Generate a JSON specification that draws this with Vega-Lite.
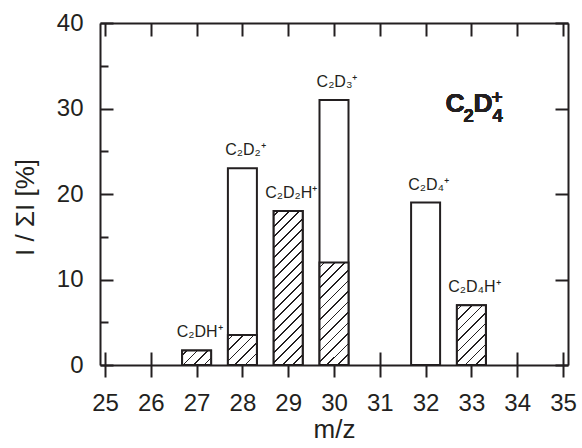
{
  "$schema": "https://vega.github.io/schema/vega-lite/v6.json",
  "width": 468,
  "height": 342,
  "autosize": {"type": "none"},
  "padding": {"left": 100, "top": 23, "right": 14, "bottom": 83},
  "background": "#ffffff",
  "data": {"values": [
    {"mz": 27, "ion": "C₂DH⁺", "total": 1.7, "hatched": 1.7},
    {"mz": 28, "ion": "C₂D₂⁺", "total": 23, "hatched": 3.5},
    {"mz": 29, "ion": "C₂D₂H⁺", "total": 18, "hatched": 18},
    {"mz": 30, "ion": "C₂D₃⁺", "total": 31, "hatched": 12},
    {"mz": 32, "ion": "C₂D₄⁺", "total": 19, "hatched": 0},
    {"mz": 33, "ion": "C₂D₄H⁺", "total": 7, "hatched": 7}
  ]},
  "resolve": {"axis": {"x": "independent", "y": "independent"}},
  "layer": [
    {
      "mark": {"type": "bar", "width": 29, "fill": "#ffffff", "stroke": "#231f20", "strokeWidth": 2},
      "encoding": {
        "x": {"field": "mz", "type": "quantitative", "scale": {"domain": [25, 35], "nice": false, "zero": false},
              "axis": {"orient": "bottom", "values": [25,26,27,28,29,30,31,32,33,34,35], "tickSize": 12, "labelPadding": 14, "labelFlush": false, "labelOverlap": false, "title": "m/z", "titlePadding": 1}},
        "y": {"field": "total", "type": "quantitative", "scale": {"domain": [0, 40], "nice": false},
              "axis": {"orient": "left", "values": [0,10,20,30,40], "ticks": false, "labelPadding": 17, "labelFlush": false, "labelOverlap": false, "title": "I / ΣI [%]", "titlePadding": 18, "titleY": 184}}
      }
    },
    {
      "transform": [{"filter": "datum.hatched > 0"}],
      "mark": {"type": "bar", "width": 29, "stroke": "#231f20", "strokeWidth": 2},
      "encoding": {
        "x": {"field": "mz", "type": "quantitative", "scale": {"domain": [25, 35], "nice": false, "zero": false},
              "axis": {"orient": "top", "values": [25,26,27,28,29,30,31,32,33,34,35], "tickSize": -13, "labels": false, "title": null}},
        "y": {"field": "hatched", "type": "quantitative", "scale": {"domain": [0, 40], "nice": false},
              "axis": {"orient": "right", "values": [0,10,20,30,40], "tickSize": -13, "labels": false, "title": null}},
        "fill": {
          "condition": [
            {"test": "datum.mz === 27", "value": {"gradient": "linear", "x1": 0, "y1": 0, "x2": 1.1998, "y2": 0.6016, "stops": [
              {"offset": 0, "color": "#ffffff"},
              {"offset": 0.0942, "color": "#ffffff"}, {"offset": 0.0942, "color": "#231f20"}, {"offset": 0.1355, "color": "#231f20"}, {"offset": 0.1355, "color": "#ffffff"},
              {"offset": 0.3353, "color": "#ffffff"}, {"offset": 0.3353, "color": "#231f20"}, {"offset": 0.3767, "color": "#231f20"}, {"offset": 0.3767, "color": "#ffffff"},
              {"offset": 0.5765, "color": "#ffffff"}, {"offset": 0.5765, "color": "#231f20"}, {"offset": 0.6178, "color": "#231f20"}, {"offset": 0.6178, "color": "#ffffff"},
              {"offset": 0.8176, "color": "#ffffff"}, {"offset": 0.8176, "color": "#231f20"}, {"offset": 0.8590, "color": "#231f20"}, {"offset": 0.8590, "color": "#ffffff"},
              {"offset": 1, "color": "#ffffff"}
            ]}},
            {"test": "datum.mz === 28", "value": {"gradient": "linear", "x1": 0, "y1": 0, "x2": 0.984, "y2": 1.0155, "stops": [
              {"offset": 0, "color": "#ffffff"},
              {"offset": 0.0696, "color": "#ffffff"}, {"offset": 0.0696, "color": "#231f20"}, {"offset": 0.1001, "color": "#231f20"}, {"offset": 0.1001, "color": "#ffffff"},
              {"offset": 0.2478, "color": "#ffffff"}, {"offset": 0.2478, "color": "#231f20"}, {"offset": 0.2783, "color": "#231f20"}, {"offset": 0.2783, "color": "#ffffff"},
              {"offset": 0.4259, "color": "#ffffff"}, {"offset": 0.4259, "color": "#231f20"}, {"offset": 0.4565, "color": "#231f20"}, {"offset": 0.4565, "color": "#ffffff"},
              {"offset": 0.6041, "color": "#ffffff"}, {"offset": 0.6041, "color": "#231f20"}, {"offset": 0.6347, "color": "#231f20"}, {"offset": 0.6347, "color": "#ffffff"},
              {"offset": 0.7823, "color": "#ffffff"}, {"offset": 0.7823, "color": "#231f20"}, {"offset": 0.8128, "color": "#231f20"}, {"offset": 0.8128, "color": "#ffffff"},
              {"offset": 0.9605, "color": "#ffffff"}, {"offset": 0.9605, "color": "#231f20"}, {"offset": 0.9910, "color": "#231f20"}, {"offset": 0.9910, "color": "#ffffff"},
              {"offset": 1, "color": "#ffffff"}
            ]}},
            {"test": "datum.mz === 29", "value": {"gradient": "linear", "x1": 0, "y1": 0, "x2": 0.2163, "y2": 1.1477, "stops": [
              {"offset": 0, "color": "#ffffff"},
              {"offset": 0.0224, "color": "#ffffff"}, {"offset": 0.0224, "color": "#231f20"}, {"offset": 0.0323, "color": "#231f20"}, {"offset": 0.0323, "color": "#ffffff"},
              {"offset": 0.0798, "color": "#ffffff"}, {"offset": 0.0798, "color": "#231f20"}, {"offset": 0.0897, "color": "#231f20"}, {"offset": 0.0897, "color": "#ffffff"},
              {"offset": 0.1372, "color": "#ffffff"}, {"offset": 0.1372, "color": "#231f20"}, {"offset": 0.1471, "color": "#231f20"}, {"offset": 0.1471, "color": "#ffffff"},
              {"offset": 0.1946, "color": "#ffffff"}, {"offset": 0.1946, "color": "#231f20"}, {"offset": 0.2045, "color": "#231f20"}, {"offset": 0.2045, "color": "#ffffff"},
              {"offset": 0.2520, "color": "#ffffff"}, {"offset": 0.2520, "color": "#231f20"}, {"offset": 0.2619, "color": "#231f20"}, {"offset": 0.2619, "color": "#ffffff"},
              {"offset": 0.3095, "color": "#ffffff"}, {"offset": 0.3095, "color": "#231f20"}, {"offset": 0.3193, "color": "#231f20"}, {"offset": 0.3193, "color": "#ffffff"},
              {"offset": 0.3669, "color": "#ffffff"}, {"offset": 0.3669, "color": "#231f20"}, {"offset": 0.3767, "color": "#231f20"}, {"offset": 0.3767, "color": "#ffffff"},
              {"offset": 0.4243, "color": "#ffffff"}, {"offset": 0.4243, "color": "#231f20"}, {"offset": 0.4341, "color": "#231f20"}, {"offset": 0.4341, "color": "#ffffff"},
              {"offset": 0.4817, "color": "#ffffff"}, {"offset": 0.4817, "color": "#231f20"}, {"offset": 0.4915, "color": "#231f20"}, {"offset": 0.4915, "color": "#ffffff"},
              {"offset": 0.5391, "color": "#ffffff"}, {"offset": 0.5391, "color": "#231f20"}, {"offset": 0.5489, "color": "#231f20"}, {"offset": 0.5489, "color": "#ffffff"},
              {"offset": 0.5965, "color": "#ffffff"}, {"offset": 0.5965, "color": "#231f20"}, {"offset": 0.6063, "color": "#231f20"}, {"offset": 0.6063, "color": "#ffffff"},
              {"offset": 0.6539, "color": "#ffffff"}, {"offset": 0.6539, "color": "#231f20"}, {"offset": 0.6638, "color": "#231f20"}, {"offset": 0.6638, "color": "#ffffff"},
              {"offset": 0.7113, "color": "#ffffff"}, {"offset": 0.7113, "color": "#231f20"}, {"offset": 0.7212, "color": "#231f20"}, {"offset": 0.7212, "color": "#ffffff"},
              {"offset": 0.7687, "color": "#ffffff"}, {"offset": 0.7687, "color": "#231f20"}, {"offset": 0.7786, "color": "#231f20"}, {"offset": 0.7786, "color": "#ffffff"},
              {"offset": 0.8261, "color": "#ffffff"}, {"offset": 0.8261, "color": "#231f20"}, {"offset": 0.8360, "color": "#231f20"}, {"offset": 0.8360, "color": "#ffffff"},
              {"offset": 0.8835, "color": "#ffffff"}, {"offset": 0.8835, "color": "#231f20"}, {"offset": 0.8934, "color": "#231f20"}, {"offset": 0.8934, "color": "#ffffff"},
              {"offset": 0.9410, "color": "#ffffff"}, {"offset": 0.9410, "color": "#231f20"}, {"offset": 0.9508, "color": "#231f20"}, {"offset": 0.9508, "color": "#ffffff"},
              {"offset": 1, "color": "#ffffff"}
            ]}},
            {"test": "datum.mz === 30", "value": {"gradient": "linear", "x1": 0, "y1": 0, "x2": 0.3357, "y2": 1.1878, "stops": [
              {"offset": 0, "color": "#ffffff"},
              {"offset": 0.0312, "color": "#ffffff"}, {"offset": 0.0312, "color": "#231f20"}, {"offset": 0.0448, "color": "#231f20"}, {"offset": 0.0448, "color": "#ffffff"},
              {"offset": 0.1109, "color": "#ffffff"}, {"offset": 0.1109, "color": "#231f20"}, {"offset": 0.1246, "color": "#231f20"}, {"offset": 0.1246, "color": "#ffffff"},
              {"offset": 0.1907, "color": "#ffffff"}, {"offset": 0.1907, "color": "#231f20"}, {"offset": 0.2044, "color": "#231f20"}, {"offset": 0.2044, "color": "#ffffff"},
              {"offset": 0.2705, "color": "#ffffff"}, {"offset": 0.2705, "color": "#231f20"}, {"offset": 0.2842, "color": "#231f20"}, {"offset": 0.2842, "color": "#ffffff"},
              {"offset": 0.3503, "color": "#ffffff"}, {"offset": 0.3503, "color": "#231f20"}, {"offset": 0.3640, "color": "#231f20"}, {"offset": 0.3640, "color": "#ffffff"},
              {"offset": 0.4301, "color": "#ffffff"}, {"offset": 0.4301, "color": "#231f20"}, {"offset": 0.4438, "color": "#231f20"}, {"offset": 0.4438, "color": "#ffffff"},
              {"offset": 0.5099, "color": "#ffffff"}, {"offset": 0.5099, "color": "#231f20"}, {"offset": 0.5236, "color": "#231f20"}, {"offset": 0.5236, "color": "#ffffff"},
              {"offset": 0.5897, "color": "#ffffff"}, {"offset": 0.5897, "color": "#231f20"}, {"offset": 0.6033, "color": "#231f20"}, {"offset": 0.6033, "color": "#ffffff"},
              {"offset": 0.6695, "color": "#ffffff"}, {"offset": 0.6695, "color": "#231f20"}, {"offset": 0.6831, "color": "#231f20"}, {"offset": 0.6831, "color": "#ffffff"},
              {"offset": 0.7492, "color": "#ffffff"}, {"offset": 0.7492, "color": "#231f20"}, {"offset": 0.7629, "color": "#231f20"}, {"offset": 0.7629, "color": "#ffffff"},
              {"offset": 0.8290, "color": "#ffffff"}, {"offset": 0.8290, "color": "#231f20"}, {"offset": 0.8427, "color": "#231f20"}, {"offset": 0.8427, "color": "#ffffff"},
              {"offset": 0.9088, "color": "#ffffff"}, {"offset": 0.9088, "color": "#231f20"}, {"offset": 0.9225, "color": "#231f20"}, {"offset": 0.9225, "color": "#ffffff"},
              {"offset": 1, "color": "#ffffff"}
            ]}},
            {"test": "datum.mz === 33", "value": {"gradient": "linear", "x1": 0, "y1": 0, "x2": 0.5826, "y2": 1.2023, "stops": [
              {"offset": 0, "color": "#ffffff"},
              {"offset": 0.0461, "color": "#ffffff"}, {"offset": 0.0461, "color": "#231f20"}, {"offset": 0.0664, "color": "#231f20"}, {"offset": 0.0664, "color": "#ffffff"},
              {"offset": 0.1643, "color": "#ffffff"}, {"offset": 0.1643, "color": "#231f20"}, {"offset": 0.1846, "color": "#231f20"}, {"offset": 0.1846, "color": "#ffffff"},
              {"offset": 0.2825, "color": "#ffffff"}, {"offset": 0.2825, "color": "#231f20"}, {"offset": 0.3028, "color": "#231f20"}, {"offset": 0.3028, "color": "#ffffff"},
              {"offset": 0.4007, "color": "#ffffff"}, {"offset": 0.4007, "color": "#231f20"}, {"offset": 0.4209, "color": "#231f20"}, {"offset": 0.4209, "color": "#ffffff"},
              {"offset": 0.5188, "color": "#ffffff"}, {"offset": 0.5188, "color": "#231f20"}, {"offset": 0.5391, "color": "#231f20"}, {"offset": 0.5391, "color": "#ffffff"},
              {"offset": 0.6370, "color": "#ffffff"}, {"offset": 0.6370, "color": "#231f20"}, {"offset": 0.6573, "color": "#231f20"}, {"offset": 0.6573, "color": "#ffffff"},
              {"offset": 0.7552, "color": "#ffffff"}, {"offset": 0.7552, "color": "#231f20"}, {"offset": 0.7755, "color": "#231f20"}, {"offset": 0.7755, "color": "#ffffff"},
              {"offset": 0.8734, "color": "#ffffff"}, {"offset": 0.8734, "color": "#231f20"}, {"offset": 0.8936, "color": "#231f20"}, {"offset": 0.8936, "color": "#ffffff"},
              {"offset": 1, "color": "#ffffff"}
            ]}}
          ],
          "value": "#cccccc"
        }
      }
    },
    {
      "mark": {"type": "text", "dy": -13, "dx": 3, "fontSize": 16, "align": "center", "baseline": "alphabetic", "font": "Liberation Sans", "color": "#231f20"},
      "encoding": {
        "x": {"field": "mz", "type": "quantitative", "scale": {"domain": [25, 35], "nice": false, "zero": false},
              "axis": {"orient": "bottom", "values": [25,26,27,28,29,30,31,32,33,34,35], "tickSize": -13, "labels": false, "domain": false, "title": null}},
        "y": {"field": "total", "type": "quantitative", "scale": {"domain": [0, 40], "nice": false},
              "axis": {"orient": "left", "values": [0,10,20,30,40], "tickSize": -13, "labels": false, "domain": false, "title": null}},
        "text": {"field": "ion"}
      }
    },
    {
      "encoding": {
        "x": {"datum": 32.436, "type": "quantitative", "axis": null},
        "y": {"datum": 29.6, "type": "quantitative",
              "axis": {"orient": "left", "values": [5,15,25,35], "tickSize": -8, "labels": false, "domain": false, "title": null}}
      },
      "layer": [
        {"mark": {"type": "text", "text": "C", "fontSize": 26.5, "fontWeight": "bold", "align": "left", "baseline": "alphabetic", "font": "Liberation Sans", "color": "#231f20"}},
        {"mark": {"type": "text", "text": "2", "dx": 18, "dy": 10, "fontSize": 18.5, "fontWeight": "bold", "align": "left", "baseline": "alphabetic", "font": "Liberation Sans", "color": "#231f20"}},
        {"mark": {"type": "text", "text": "D", "dx": 28, "fontSize": 26.5, "fontWeight": "bold", "align": "left", "baseline": "alphabetic", "font": "Liberation Sans", "color": "#231f20"}},
        {"mark": {"type": "text", "text": "4", "dx": 47, "dy": 10, "fontSize": 18.5, "fontWeight": "bold", "align": "left", "baseline": "alphabetic", "font": "Liberation Sans", "color": "#231f20"}},
        {"mark": {"type": "text", "text": "+", "dx": 46, "dy": -9, "fontSize": 19, "fontWeight": "bold", "align": "left", "baseline": "alphabetic", "font": "Liberation Sans", "color": "#231f20"}}
      ]
    }
  ],
  "config": {
    "view": {"stroke": null},
    "font": "Liberation Sans",
    "axis": {
      "grid": false,
      "domainColor": "#231f20", "domainWidth": 2,
      "tickColor": "#231f20", "tickWidth": 2,
      "labelColor": "#231f20", "labelFont": "Liberation Sans", "labelFontSize": 24,
      "titleColor": "#231f20", "titleFont": "Liberation Sans", "titleFontSize": 26, "titleFontWeight": "normal"
    }
  }
}
